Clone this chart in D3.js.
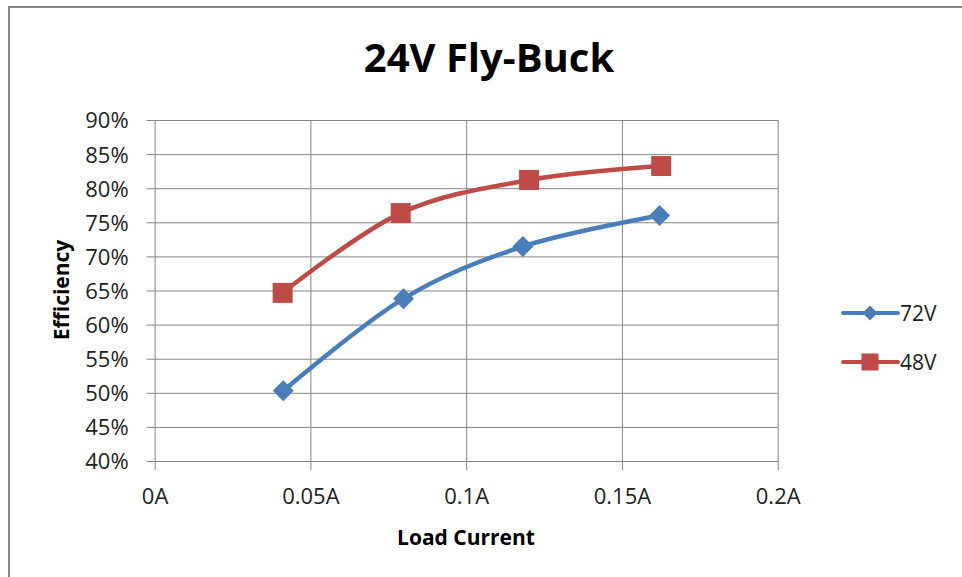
<!DOCTYPE html>
<html><head><meta charset="utf-8">
<script src="https://cdn.jsdelivr.net/npm/d3@7"></script>
<style>body{margin:0;background:#fff}svg{display:block}</style>
</head><body>
<svg id="chart" width="962" height="577"></svg>
<script>
// ---- data ----
const chartTitle = "24V Fly-Buck";
const xAxisTitle = "Load Current";
const yAxisTitle = "Efficiency";
const xTickValues = [0, 0.05, 0.1, 0.15, 0.2];
const yTickValues = [0.40, 0.45, 0.50, 0.55, 0.60, 0.65, 0.70, 0.75, 0.80, 0.85, 0.90];
const seriesNames = ["72V", "48V"];
const current72V = [0.0413, 0.0799, 0.1182, 0.1621];
const efficiency72V = [0.503, 0.638, 0.7145, 0.760];
const current48V = [0.0411, 0.0790, 0.1202, 0.1626];
const efficiency48V = [0.6465, 0.7635, 0.812, 0.8325];

// ---- layout ----
const W = 962, H = 577;
const plot = {left: 154.6, right: 777.7, top: 120, bottom: 461};
const colors = {"72V": "#4A7EBB", "48V": "#BE4B48"};
const gridColor = "#868686";
const font = "'Open Sans', sans-serif";

const svg = d3.select("#chart");

const x = d3.scaleLinear().domain([0, 0.2]).range([plot.left, plot.right]);
const y = d3.scaleLinear().domain([0.40, 0.90]).range([plot.bottom, plot.top]);

// outer chart border (left & top visible)
svg.append("path")
  .attr("d", `M9,${H} V7 H${W}`)
  .attr("fill", "none").attr("stroke", "#878787").attr("stroke-width", 2);

// title
svg.append("text")
  .attr("x", 489).attr("y", 72)
  .attr("text-anchor", "middle")
  .attr("font-family", font).attr("font-weight", 700).attr("font-size", 40)
  .attr("fill", "#000")
  .text(chartTitle);

// horizontal gridlines (with tick stubs to the left)
const yAxis = svg.append("g")
  .attr("transform", `translate(${plot.left},0)`)
  .call(d3.axisLeft(y).tickValues(yTickValues).tickSize(8).tickPadding(18)
        .tickFormat(d3.format(".0%")));
yAxis.select(".domain").remove();
yAxis.selectAll(".tick line").attr("stroke", gridColor).attr("x2", -8)
  .clone().attr("x2", plot.right - plot.left);
yAxis.selectAll(".tick text")
  .attr("font-family", font).attr("font-size", 22).attr("fill", "#222")
  .attr("x", -26).attr("dy", "0.36em");

// vertical gridlines (with tick stubs below)
const xAxis = svg.append("g")
  .attr("transform", `translate(0,${plot.bottom})`)
  .call(d3.axisBottom(x).tickValues(xTickValues).tickSize(9)
        .tickFormat(d => d3.format("")(d) + "A"));
xAxis.select(".domain").remove();
xAxis.selectAll(".tick line").attr("stroke", gridColor)
  .clone().attr("y2", plot.top - plot.bottom);
xAxis.selectAll(".tick text")
  .attr("font-family", font).attr("font-size", 22).attr("fill", "#222")
  .attr("y", 43).attr("dy", 0);

// axis titles
svg.append("text")
  .attr("x", 466).attr("y", 545)
  .attr("text-anchor", "middle")
  .attr("font-family", font).attr("font-weight", 700).attr("font-size", 21)
  .attr("fill", "#000").text(xAxisTitle);
svg.append("text")
  .attr("transform", "translate(69,290) rotate(-90)")
  .attr("text-anchor", "middle")
  .attr("font-family", font).attr("font-weight", 700).attr("font-size", 21)
  .attr("fill", "#000").text(yAxisTitle);

// series
const series = [
  {name: seriesNames[0], xs: current72V, ys: efficiency72V, marker: "diamond"},
  {name: seriesNames[1], xs: current48V, ys: efficiency48V, marker: "square"}
];
const line = d3.line()
  .x(d => x(d[0])).y(d => y(d[1]))
  .curve(d3.curveCardinal.tension(0));

function drawMarker(g, type, cx, cy, size, color) {
  if (type === "diamond") {
    const r = size / 2;
    g.append("path")
      .attr("d", `M${cx},${cy - r} L${cx + r},${cy} L${cx},${cy + r} L${cx - r},${cy} Z`)
      .attr("fill", color);
  } else {
    g.append("rect")
      .attr("x", cx - size / 2).attr("y", cy - size / 2)
      .attr("width", size).attr("height", size)
      .attr("fill", color);
  }
}

series.forEach(s => {
  const pts = s.xs.map((v, i) => [v, s.ys[i]]);
  const g = svg.append("g");
  g.append("path").datum(pts)
    .attr("d", line)
    .attr("fill", "none").attr("stroke", colors[s.name])
    .attr("stroke-width", 4.5).attr("stroke-linecap", "round").attr("stroke-linejoin", "round");
  pts.forEach(p => drawMarker(g, s.marker, x(p[0]), y(p[1]), s.marker === "diamond" ? 21 : 20, colors[s.name]));
});

// legend
const legendY = d3.scalePoint().domain(seriesNames).range([313, 362]);
series.forEach(s => {
  const ly = legendY(s.name);
  const g = svg.append("g");
  g.append("line").attr("x1", 843).attr("x2", 898).attr("y1", ly).attr("y2", ly)
    .attr("stroke", colors[s.name]).attr("stroke-width", 4).attr("stroke-linecap", "round");
  drawMarker(g, s.marker, 870, ly, s.marker === "diamond" ? 15 : 17, colors[s.name]);
  g.append("text").attr("x", 900).attr("y", ly).attr("dy", "0.36em")
    .attr("font-family", font).attr("font-size", 21).attr("fill", "#222")
    .text(s.name);
});
</script>
</body></html>
